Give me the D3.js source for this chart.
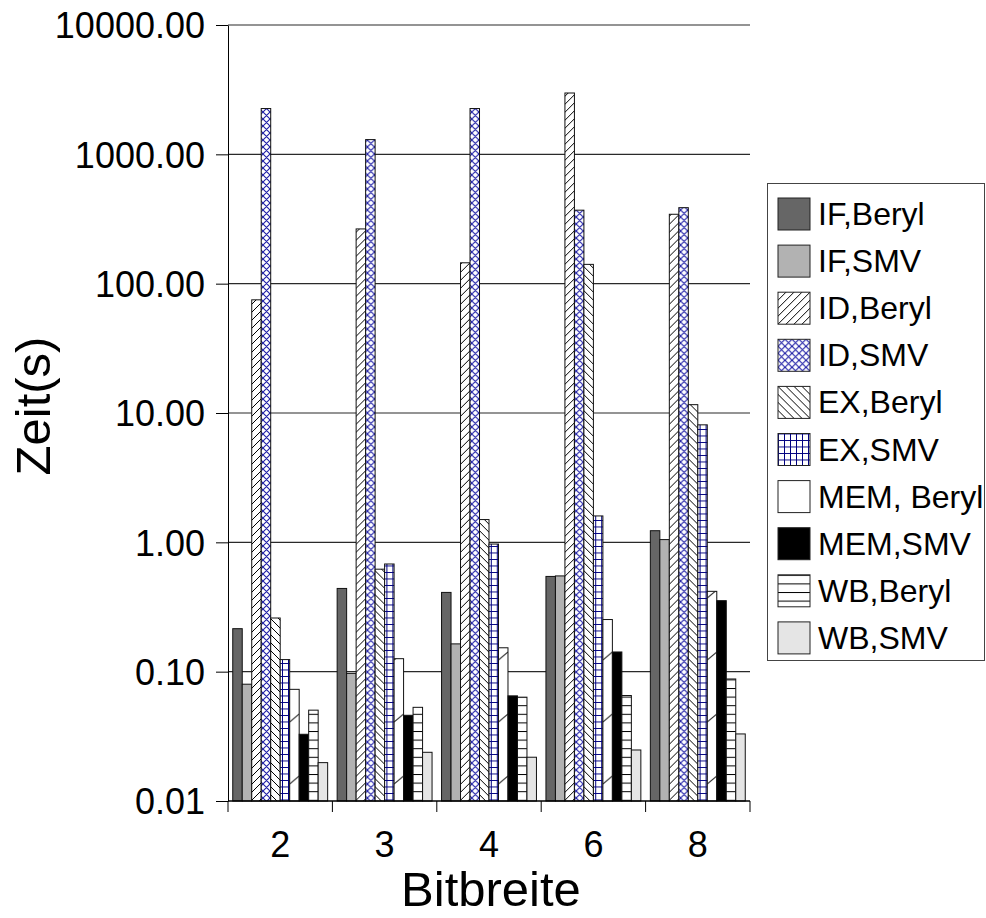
<!DOCTYPE html>
<html>
<head>
<meta charset="utf-8">
<script src="https://cdn.jsdelivr.net/npm/d3@7"></script>
<style>
  body { margin: 0; background: #fff; }
  svg text { font-family: "Liberation Sans", Arial, sans-serif; fill: #000; }
</style>
</head>
<body>
<div id="chart"></div>
<script>
// categories (Bitbreite) and series
var cats = ['2', '3', '4', '6', '8'];
var names = ['IF,Beryl', 'IF,SMV', 'ID,Beryl', 'ID,SMV', 'EX,Beryl', 'EX,SMV', 'MEM, Beryl', 'MEM,SMV', 'WB,Beryl', 'WB,SMV'];

// values in seconds, one entry per category
var ifBeryl  = [0.215, 0.44, 0.41, 0.545, 1.23];
var ifSmv    = [0.080, 0.097, 0.164, 0.55, 1.05];
var idBeryl  = [75, 265, 145, 2980, 344];
var idSmv    = [2260, 1300, 2260, 370, 387];
var exBeryl  = [0.26, 0.62, 1.5, 141, 11.6];
var exSmv    = [0.124, 0.68, 0.97, 1.6, 8.1];
var memBeryl = [0.073, 0.126, 0.153, 0.253, 0.418];
var memSmv   = [0.0328, 0.046, 0.065, 0.142, 0.354];
var wbBeryl  = [0.0504, 0.053, 0.0635, 0.0654, 0.0878];
var wbSmv    = [0.0198, 0.0238, 0.0218, 0.0248, 0.033];

var yTicks = [0.01, 0.1, 1, 10, 100, 1000, 10000];

var seriesVals = [ifBeryl, ifSmv, idBeryl, idSmv, exBeryl, exSmv, memBeryl, memSmv, wbBeryl, wbSmv];
var fills = ['#666666', '#b2b2b2', 'url(#p-idb)', 'url(#p-ids)', 'url(#p-exb)', 'url(#p-exs)', 'url(#p-memb)', '#000000', 'url(#p-wbb)', '#e5e5e5'];

var width = 986, height = 918;
var pLeft = 228, pRight = 750, pTop = 25, pBottom = 801;

var svg = d3.select('#chart').append('svg')
    .attr('width', width)
    .attr('height', height);

var y = d3.scaleLog().domain([0.01, 10000]).range([pBottom, pTop]);
var x0 = d3.scaleBand().domain(cats).range([pLeft, pRight]);
var x1 = d3.scaleBand().domain(names).range([0, x0.bandwidth()]).paddingOuter(0.5);

////////////////////// patterns //////////////////////
var defs = svg.append('defs');

function pat(id, w, h) {
    var p = defs.append('pattern').attr('id', id)
        .attr('patternUnits', 'userSpaceOnUse')
        .attr('width', w).attr('height', h);
    p.append('rect').attr('width', w).attr('height', h).attr('fill', '#fff');
    return p;
}
pat('p-idb', 8, 8).append('path')
    .attr('d', 'M0,8L8,0M-2,2L2,-2M6,10L10,6')
    .attr('stroke', '#000').attr('stroke-width', 1);
pat('p-exb', 8, 8).append('path')
    .attr('d', 'M0,0L8,8M-2,6L2,10M6,-2L10,2')
    .attr('stroke', '#000').attr('stroke-width', 1);
pat('p-ids', 7, 7).append('path')
    .attr('d', 'M0,7L7,0M-2,2L2,-2M5,9L9,5M0,0L7,7M-2,5L2,9M5,-2L9,2')
    .attr('stroke', '#1e1ea6').attr('stroke-width', 1.1);
pat('p-exs', 6, 6.5).append('path')
    .attr('d', 'M0,0.5H6M0.5,0V6.5')
    .attr('stroke', '#000080').attr('stroke-width', 1);
pat('p-wbb', 8, 8.6).append('path')
    .attr('d', 'M0,0.5H8')
    .attr('stroke', '#000').attr('stroke-width', 1);
// the white MEM bars carry an odd sparse slash every ~62px
var memP = pat('p-memb', x1.bandwidth(), 62).attr('x', x1('MEM, Beryl'));
memP.append('path')
    .attr('d', 'M0,40L' + x1.bandwidth() + ',32')
    .attr('stroke', '#333').attr('stroke-width', 1);

////////////////////// grid //////////////////////
svg.append('g').selectAll('line')
    .data(yTicks.slice(1))
    .enter().append('line')
    .attr('x1', pLeft).attr('x2', pRight)
    .attr('y1', function(d) { return y(d); })
    .attr('y2', function(d) { return y(d); })
    .attr('stroke', '#2a2a2a').attr('stroke-width', 1.2);

////////////////////// bars //////////////////////
var groups = svg.append('g').selectAll('g')
    .data(cats)
    .enter().append('g')
    .attr('transform', function(d) { return 'translate(' + x0(d) + ',0)'; });

groups.selectAll('rect')
    .data(function(c, ci) {
        return names.map(function(n, si) { return {name: n, si: si, v: seriesVals[si][ci]}; });
    })
    .enter().append('rect')
    .attr('x', function(d) { return x1(d.name); })
    .attr('y', function(d) { return y(d.v); })
    .attr('width', x1.bandwidth())
    .attr('height', function(d) { return pBottom - y(d.v); })
    .attr('fill', function(d) { return fills[d.si]; })
    .attr('stroke', '#111').attr('stroke-width', 1);

////////////////////// axes //////////////////////
var yAxis = svg.append('g')
    .attr('transform', 'translate(' + pLeft + ',0)')
    .call(d3.axisLeft(y).tickValues(yTicks).tickSize(12).tickSizeOuter(0).tickPadding(11)
        .tickFormat(d3.format('.2f')));
yAxis.selectAll('text').style('font-size', '36px').attr('dy', '0.36em');
yAxis.selectAll('line, path').attr('stroke', '#000');

// x axis: base line, boundary ticks, labels
svg.append('line')
    .attr('x1', pLeft).attr('x2', pRight)
    .attr('y1', pBottom).attr('y2', pBottom)
    .attr('stroke', '#000').attr('stroke-width', 1.5);
var edges = cats.map(function(c) { return x0(c); }).concat([pRight]);
svg.append('g').selectAll('line')
    .data(edges)
    .enter().append('line')
    .attr('x1', function(d) { return d; }).attr('x2', function(d) { return d; })
    .attr('y1', pBottom).attr('y2', pBottom + 11)
    .attr('stroke', '#000');
svg.append('g').selectAll('text')
    .data(cats)
    .enter().append('text')
    .attr('x', function(d) { return x0(d) + x0.bandwidth() / 2; })
    .attr('y', 857)
    .attr('text-anchor', 'middle')
    .style('font-size', '36px')
    .text(function(d) { return d; });

// titles
svg.append('text')
    .attr('transform', 'translate(50,406) rotate(-90)')
    .attr('text-anchor', 'middle')
    .style('font-size', '49px')
    .text('Zeit(s)');
svg.append('text')
    .attr('x', 491).attr('y', 906)
    .attr('text-anchor', 'middle')
    .style('font-size', '49px')
    .text('Bitbreite');

////////////////////// legend //////////////////////
var lg = svg.append('g');
lg.append('rect')
    .attr('x', 767.5).attr('y', 183.5)
    .attr('width', 217).attr('height', 477)
    .attr('fill', '#fff').attr('stroke', '#444');
var items = lg.selectAll('g.item')
    .data(names)
    .enter().append('g').attr('class', 'item')
    .attr('transform', function(d, i) { return 'translate(778,' + (198 + i * 47.1) + ')'; });
items.append('rect')
    .attr('width', 32).attr('height', 32)
    .attr('fill', function(d, i) { return fills[i] == 'url(#p-memb)' ? '#fff' : fills[i]; })
    .attr('stroke', '#222');
items.append('text')
    .attr('x', 40).attr('y', 27)
    .style('font-size', '32px')
    .text(function(d) { return d; });
</script>
</body>
</html>
